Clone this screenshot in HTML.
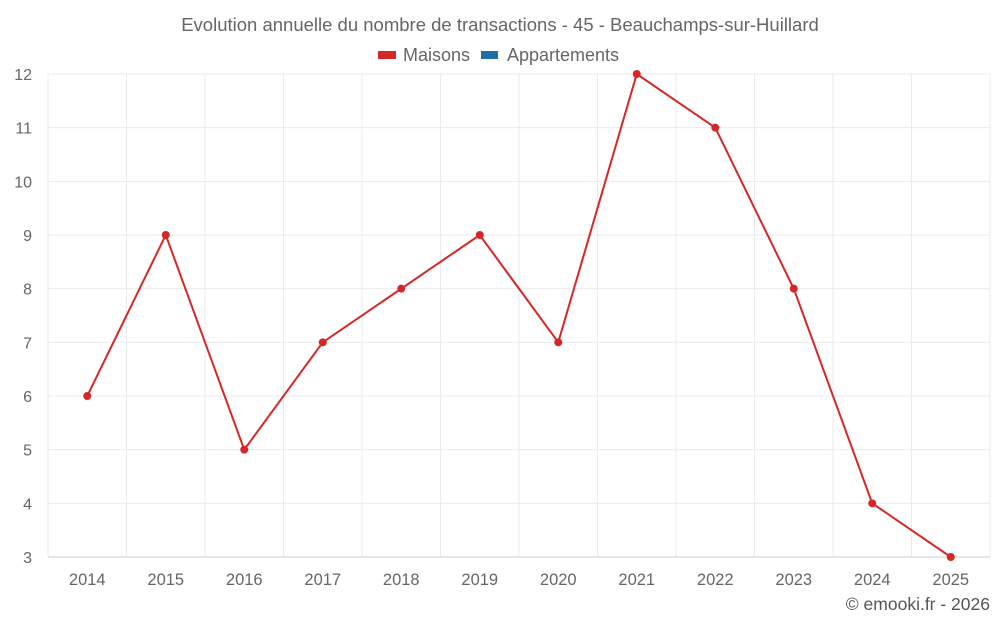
<!DOCTYPE html>
<html><head><meta charset="utf-8"><style>
body{margin:0;background:#fff;font-family:"Liberation Sans",sans-serif}
svg{display:block}
</style></head><body>
<svg id="chart" width="1000" height="625">
<text x="500" y="31" text-anchor="middle" font-size="18.5" fill="#666">Evolution annuelle du nombre de transactions - 45 - Beauchamps-sur-Huillard</text>
<g>
<g><rect x="378" y="51" width="18" height="8" fill="#d62728"/><text x="403" y="61" font-size="18" fill="#666">Maisons</text></g>
<g><rect x="481" y="51" width="17" height="8" fill="#1f6fa5"/><text x="507" y="61" font-size="18" fill="#666">Appartements</text></g>
</g>
<g id="grid"></g>
<g id="axes"></g>
<g id="series"></g>
<text x="990" y="610" text-anchor="end" font-size="17.5" fill="#555">© emooki.fr - 2026</text>
</svg>
<script>
const categories=["2014","2015","2016","2017","2018","2019","2020","2021","2022","2023","2024","2025"];
const maisons=[6,9,5,7,8,9,7,12,11,8,4,3];
const yTicks=[3,4,5,6,7,8,9,10,11,12];
const L=48,R=990,T=74,B=557,yMin=3,yMax=12;
const bw=(R-L)/categories.length;
const x=i=>L+bw*(i+0.5);
const y=v=>B-(v-yMin)/(yMax-yMin)*(B-T);
const NS="http://www.w3.org/2000/svg";
function mk(tag,attrs,parent){const e=document.createElementNS(NS,tag);for(const k in attrs)e.setAttribute(k,attrs[k]);parent.appendChild(e);return e;}
const grid=document.getElementById('grid'),axes=document.getElementById('axes'),series=document.getElementById('series');
yTicks.forEach(v=>{
const l=mk('line',{x1:L,x2:R,y1:y(v),y2:y(v),stroke:v===yMin?'#ccc':'#ebebeb','stroke-width':1},grid);


const t=mk('text',{x:32,y:y(v)+6,'text-anchor':'end','font-size':16,fill:'#666'},axes);
t.textContent=v;


});
for(let i=0;i<=categories.length;i++){
const l=mk('line',{x1:L+bw*i,x2:L+bw*i,y1:T,y2:B,stroke:'#ebebeb','stroke-width':1},grid);


}
categories.forEach((c,i)=>{
const t=mk('text',{x:x(i),y:585,'text-anchor':'middle','font-size':16.5,fill:'#666'},axes);
t.textContent=c;


});
const p=mk('polyline',{points:maisons.map((v,i)=>x(i)+','+y(v)).join(' '),fill:'none',stroke:'#d62728','stroke-width':2},series);


maisons.forEach((v,i)=>{
const c=mk('circle',{cx:x(i),cy:y(v),r:4,fill:'#d62728'},series);


});
</script>
</body></html>
